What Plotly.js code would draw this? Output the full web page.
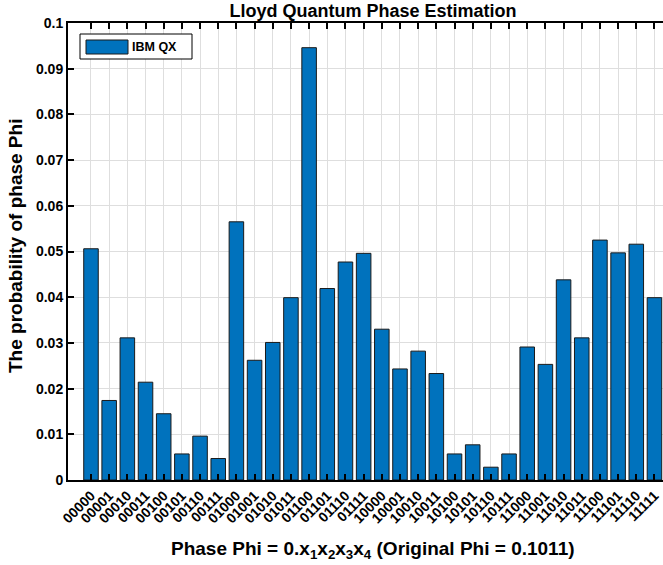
<!DOCTYPE html>
<html>
<head>
<meta charset="utf-8">
<script src="https://cdn.plot.ly/plotly-3.0.1.min.js"></script>
<style>html,body{margin:0;padding:0;background:#fff;overflow:hidden;}</style>
</head>
<body>
<div id="chart" style="width:663px;height:565px;"></div>
<script>
const categories = ["00000","00001","00010","00011","00100","00101","00110","00111",
  "01000","01001","01010","01011","01100","01101","01110","01111",
  "10000","10001","10010","10011","10100","10101","10110","10111",
  "11000","11001","11010","11011","11100","11101","11110","11111"];
const ibmQX = [0.0506,0.0174,0.0311,0.0214,0.0145,0.0057,0.0096,0.0047,
  0.0565,0.0262,0.0301,0.0399,0.0946,0.0419,0.0477,0.0496,
  0.0330,0.0243,0.0282,0.0233,0.0057,0.0077,0.0028,0.0057,
  0.0291,0.0253,0.0438,0.0311,0.0525,0.0497,0.0516,0.0399];
const yTicks = [0,0.01,0.02,0.03,0.04,0.05,0.06,0.07,0.08,0.09,0.1];
const yTickText = ["0","0.01","0.02","0.03","0.04","0.05","0.06","0.07","0.08","0.09","0.1"];
const seriesName = "IBM QX";

const W = 663, H = 565, L = 68, R = 0, T = 23, B = 85;
const px = x => (x - L) / (W - L - R);
const py = y => (H - B - y) / (H - T - B);
const FONT = "Liberation Sans, Arial, Helvetica, sans-serif";

const trace = {
  type: "bar",
  x: categories,
  y: ibmQX,
  width: 0.8,
  marker: {color: "#0072BD", line: {color: "#1a1a1a", width: 1}},
  showlegend: false,
  hoverinfo: "x+y"
};

const layout = {
  width: W, height: H,
  margin: {l: L, r: R, t: T, b: B, pad: 0},
  paper_bgcolor: "#fff", plot_bgcolor: "#fff",
  font: {family: FONT, size: 13, color: "#000", weight: "bold"},
  showlegend: false,
  title: {text: "Lloyd Quantum Phase Estimation", font: {family: FONT, size: 18, weight: "bold", color: "#000"},
          xref: "container", x: 373 / W, xanchor: "center", yref: "container", y: 1 - 11 / H, yanchor: "middle"},
  xaxis: {
    type: "category",
    range: [-1.265, 31.47],
    tickangle: -45,
    tickfont: {family: FONT, size: 14, weight: "bold", color: "#000"},
    ticks: "inside", ticklen: 6, tickwidth: 2, tickcolor: "#000",
    showline: true, linecolor: "#000", linewidth: 2, mirror: "ticks",
    showgrid: true, gridcolor: "#dedede", gridwidth: 1,
    zeroline: false, automargin: false
  },
  yaxis: {
    range: [0, 0.1],
    tickvals: yTicks, ticktext: yTickText,
    tickfont: {family: FONT, size: 14, weight: "bold", color: "#000"},
    ticks: "inside", ticklen: 6, tickwidth: 2, tickcolor: "#000",
    showline: true, linecolor: "#000", linewidth: 2, mirror: false,
    showgrid: true, gridcolor: "#dedede", gridwidth: 1,
    zeroline: false, automargin: false
  },
  shapes: [
    {type: "rect", xref: "paper", yref: "paper", x0: px(80), x1: px(192), y0: py(34), y1: py(59),
     line: {color: "#000", width: 1}, fillcolor: "#fff", layer: "above"},
    {type: "rect", xref: "paper", yref: "paper", x0: px(86), x1: px(128), y0: py(40), y1: py(54),
     line: {color: "#1a1a1a", width: 1}, fillcolor: "#0072BD", layer: "above"}
  ],
  annotations: [
    {text: seriesName, xref: "paper", yref: "paper", x: px(130), y: py(47), xanchor: "left", yanchor: "middle",
     showarrow: false, font: {family: FONT, size: 12.5, weight: "bold", color: "#000"}},
    {text: "Phase Phi = 0.x<sub>1</sub>x<sub>2</sub>x<sub>3</sub>x<sub>4</sub> (Original Phi = 0.1011)",
     xref: "paper", yref: "paper", x: px(373), y: py(550), xanchor: "center", yanchor: "middle",
     showarrow: false, font: {family: FONT, size: 19, weight: "bold", color: "#000"}},
    {text: "The probability of phase Phi", textangle: -90,
     xref: "paper", yref: "paper", x: px(16), y: py(246), xanchor: "center", yanchor: "middle",
     showarrow: false, font: {family: FONT, size: 19, weight: "bold", color: "#000"}}
  ]
};

Plotly.newPlot("chart", [trace], layout, {displayModeBar: false, staticPlot: true});
</script>
</body>
</html>
